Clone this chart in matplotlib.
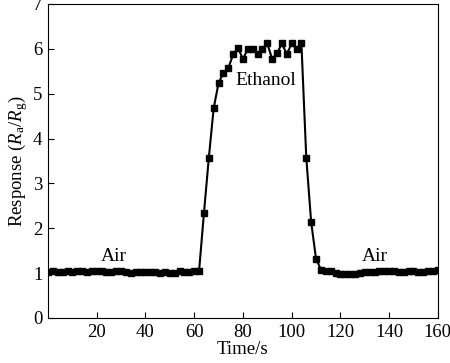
import numpy as np
import matplotlib
matplotlib.use('Agg')
import matplotlib.pyplot as plt

plt.rcParams['font.family'] = 'Liberation Serif'
plt.rcParams['mathtext.fontset'] = 'custom'
plt.rcParams['mathtext.rm'] = 'Liberation Serif'
plt.rcParams['mathtext.it'] = 'Liberation Serif:italic'

# time axis, one point every 2 s
time = np.arange(0, 161, 2)

air_before = [1.03, 1.04, 1.03, 1.02, 1.04, 1.03, 1.05, 1.04, 1.03, 1.04, 1.05, 1.04,
              1.02, 1.03, 1.05, 1.04, 1.03, 1.01, 1.03, 1.02, 1.02, 1.03, 1.03, 1.01,
              1.02, 1.01, 1.01, 1.04, 1.03, 1.03, 1.04, 1.05]
rise = [2.34, 3.57, 4.68, 5.24, 5.46, 5.57, 5.88]
plateau = [6.02, 5.77, 6.00, 6.00, 5.88, 6.00, 6.12, 5.77, 5.90, 6.12, 5.88, 6.12, 6.00, 6.12]
drop = [3.57, 2.14, 1.32, 1.08]
air_after = [1.05, 1.04, 1.01, 0.99, 0.99, 0.99, 0.99, 1.00, 1.02, 1.03, 1.03, 1.04,
             1.05, 1.04, 1.04, 1.03, 1.03, 1.04, 1.05, 1.03, 1.03, 1.04, 1.05, 1.06]

response = np.array(air_before + rise + plateau + drop + air_after)

fs = 13.5

fig = plt.figure(figsize=(4.5, 3.63), dpi=100)
ax = fig.add_axes([0.1067, 0.124, 0.8663, 0.865])

ax.plot(time, response, color='black', lw=1.5, marker='s', ms=5)

ax.set_xlim(0, 160)
ax.set_ylim(0, 7)
ax.set_xticks(range(20, 161, 20))
ax.set_yticks(range(0, 8))
ax.tick_params(direction='in', length=4, labelsize=fs, top=False, right=False, pad=4)

ax.set_xlabel('Time/s', fontsize=fs, labelpad=0)
ax.set_ylabel('Response ($R_{\\rm a}$/$R_{\\rm g}$)', fontsize=fs, labelpad=2)

ax.text(27, 1.38, 'Air', fontsize=14, ha='center', va='center')
ax.text(134, 1.38, 'Air', fontsize=14, ha='center', va='center')
ax.text(89.5, 5.3, 'Ethanol', fontsize=14, ha='center', va='center')

fig.savefig('out.png', dpi=100)
